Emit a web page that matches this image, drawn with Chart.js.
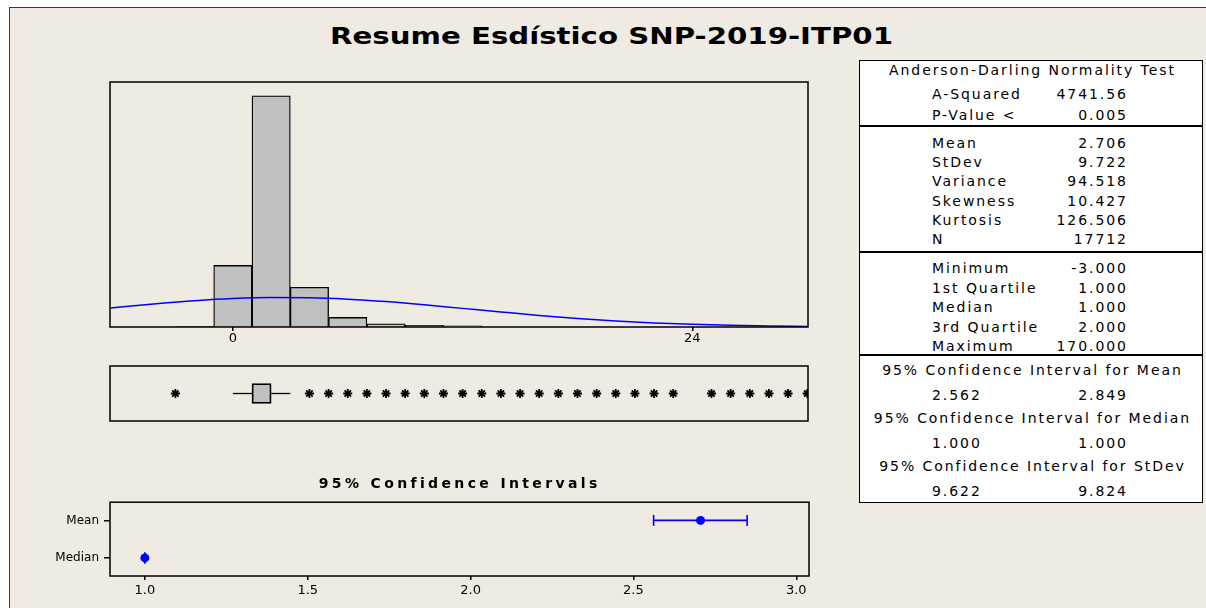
<!DOCTYPE html>
<html><head><meta charset="utf-8">
<script src="https://cdn.jsdelivr.net/npm/chart.js@4/dist/chart.umd.min.js"></script>
<style>
html,body{margin:0;padding:0;background:#fff;width:1206px;height:608px;overflow:hidden;font-family:"DejaVu Sans",Verdana,sans-serif;}
#frame{position:absolute;left:9px;top:7px;width:1197px;height:601px;background:#EFEBE2;border-left:1px solid #3a3a3a;border-top:1px solid #3a3a3a;box-sizing:border-box;}
canvas{position:absolute;}
.t{position:absolute;white-space:nowrap;color:#000;line-height:20px;transform-origin:0 50%;}
#panel{position:absolute;left:859px;top:60px;width:344px;height:443px;background:#fff;border:1.5px solid #000;box-sizing:border-box;}
.sep{position:absolute;left:859px;width:344px;height:0;border-top:2px solid #000;}
</style>
</head><body>
<div id="frame"></div>
<div id="panel"></div>
<canvas id="hist" width="720" height="300" style="left:100px;top:72px;width:720px;height:300px"></canvas>
<canvas id="box" width="720" height="75" style="left:100px;top:356px;width:720px;height:75px"></canvas>
<canvas id="ci" width="830" height="118" style="left:0px;top:490px;width:830px;height:118px"></canvas>
<script>
// ---------- data ----------
const binCenters = [-2, 0, 2, 4, 6, 8, 10, 12];
const binCounts  = [15, 3090, 11610, 1990, 480, 165, 80, 65];
const curveX = [-6.4, -4, -2, 0, 2, 4, 6, 8, 10, 12, 14, 16, 18, 20, 22, 24, 26, 28, 30];
const curveY = [955, 1165, 1315, 1425, 1475, 1465, 1395, 1275, 1115, 935, 755, 580, 430, 305, 205, 135, 85, 50, 30];
const histTicks = [0, 24];
const boxFiveNum = [0, 1, 1, 2, 3]; // lower whisker, Q1, median, Q3, upper whisker
const outliers = [-3, 4, 5, 6, 7, 8, 9, 10, 11, 12, 13, 14, 15, 16, 17, 18, 19, 20, 21, 22, 23, 25, 26, 27, 28, 29, 30];
const ciRows = ['Median', 'Mean'];
const meanCI = [2.562, 2.706, 2.849];
const medianCI = [1.000, 1.000, 1.000];
const ciTicks = [1.0, 1.5, 2.0, 2.5, 3.0];

const titleText = 'Resume Esdístico  SNP-2019-ITP01';
const ciTitle = '95% Confidence Intervals';
const adHeader = 'Anderson-Darling Normality Test';
const adRows = [['A-Squared', '4741.56'], ['P-Value <', '0.005']];
const momentRows = [['Mean', '2.706'], ['StDev', '9.722'], ['Variance', '94.518'], ['Skewness', '10.427'], ['Kurtosis', '126.506'], ['N', '17712']];
const quantRows = [['Minimum', '-3.000'], ['1st Quartile', '1.000'], ['Median', '1.000'], ['3rd Quartile', '2.000'], ['Maximum', '170.000']];
const ciHeaders = ['95% Confidence Interval for Mean', '95% Confidence Interval for Median', '95% Confidence Interval for StDev'];
const ciValues = [['2.562', '2.849'], ['1.000', '1.000'], ['9.622', '9.824']];

// ---------- text helpers ----------
function place(txt, x, y, align, font, ls, fitW, stretch) {
  const d = document.createElement('div');
  d.className = 't'; d.textContent = txt; d.style.font = font; d.style.lineHeight = '20px';
  document.body.appendChild(d);
  let sx = 1;
  if (fitW && !stretch) { const w0 = d.getBoundingClientRect().width; ls = (fitW - w0) / (txt.length - 1); }
  d.style.letterSpacing = ls + 'px';
  let w = d.getBoundingClientRect().width - ls;
  if (fitW && stretch) { sx = fitW / w; d.style.transform = 'scaleX(' + sx + ')'; w = fitW; }
  const left = align === 'left' ? x : align === 'right' ? x - w : x - w / 2;
  d.style.left = left + 'px'; d.style.top = (y - 10) + 'px';
  return ls;
}
const FF = '"DejaVu Sans", Verdana, sans-serif';
place(titleText, 611, 36, 'center', 'bold 23px ' + FF, 0, 563, true);
place(ciTitle, 458, 483, 'center', 'bold 14px ' + FF, 0, 278);

const pf = '14px ' + FF;
const pls = place(adHeader, 1031.5, 70, 'center', pf, 0, 285);
const LX = 932, RX = 1126;
adRows.forEach((r, i) => { const y = 94 + i * 21; place(r[0], LX, y, 'left', pf, pls); place(r[1], RX, y, 'right', pf, pls); });
momentRows.forEach((r, i) => { const y = 142.7 + i * 19.3; place(r[0], LX, y, 'left', pf, pls); place(r[1], RX, y, 'right', pf, pls); });
quantRows.forEach((r, i) => { const y = 268 + i * 19.5; place(r[0], LX, y, 'left', pf, pls); place(r[1], RX, y, 'right', pf, pls); });
ciHeaders.forEach((h, i) => {
  const y = 370 + i * 48;
  place(h, 1031.5, y, 'center', pf, pls);
  place(ciValues[i][0], LX, y + 24.5, 'left', pf, pls);
  place(ciValues[i][1], RX, y + 24.5, 'right', pf, pls);
});
[126, 251.7, 355.3].forEach(y => { const s = document.createElement('div'); s.className = 'sep'; s.style.top = (y - 1) + 'px'; document.body.appendChild(s); });

// ---------- charts ----------
const framePlugin = { id: 'frame', afterDraw(chart) {
  const a = chart.chartArea, c = chart.ctx;
  c.save(); c.lineWidth = 1.5; c.strokeStyle = '#000';
  c.strokeRect(a.left, a.top, a.right - a.left, a.bottom - a.top); c.restore();
} };
const baseOpts = { responsive: false, animation: false, events: [],
  plugins: { legend: { display: false }, tooltip: { enabled: false }, title: { display: false } } };

const XMIN = -6.417, XMAX = 30.04;

new Chart(document.getElementById('hist'), {
  data: { datasets: [
    { type: 'bar', data: binCenters.map((x, i) => ({ x: x, y: binCounts[i] })),
      backgroundColor: '#C0C0C0', borderColor: '#000', borderWidth: 1.3,
      barPercentage: 1, categoryPercentage: 1, order: 2 },
    { type: 'line', data: curveX.map((x, i) => ({ x: x, y: curveY[i] })),
      borderColor: '#0000FF', borderWidth: 1.5, pointRadius: 0, cubicInterpolationMode: 'monotone', order: 1 }
  ] },
  options: Object.assign({}, baseOpts, {
    layout: { padding: { left: 10, top: 10, right: 12, bottom: 0 } },
    scales: {
      x: { type: 'linear', min: XMIN, max: XMAX, offset: false,
        afterBuildTicks: s => { s.ticks = histTicks.map(v => ({ value: v })); },
        afterFit: s => { s.height = 45; },
        grid: { offset: false, drawOnChartArea: false, drawTicks: true, tickLength: 4, color: '#000', lineWidth: 1.5 },
        border: { display: false },
        ticks: { padding: 0, color: '#000', font: { family: FF, size: 13 }, maxRotation: 0, autoSkip: false } },
      y: { display: false, min: 0, max: 12300 }
    }
  }),
  plugins: [framePlugin]
});

new Chart(document.getElementById('box'), {
  data: { datasets: [
    { type: 'line', data: [{ x: boxFiveNum[0], y: 1 }, { x: boxFiveNum[1], y: 1 }], borderColor: '#000', borderWidth: 1.3, pointRadius: 0 },
    { type: 'line', data: [{ x: boxFiveNum[3], y: 1 }, { x: boxFiveNum[4], y: 1 }], borderColor: '#000', borderWidth: 1.3, pointRadius: 0 },
    { type: 'bar', indexAxis: 'y', data: [{ y: 1, x: [boxFiveNum[1], boxFiveNum[3]] }],
      backgroundColor: '#C0C0C0', borderColor: '#000', borderWidth: 1.8, barThickness: 20, borderSkipped: false },
    { type: 'scatter', data: outliers.map(v => ({ x: v, y: 1 })), pointStyle: 'star', pointRadius: 4.5,
      borderColor: '#000', backgroundColor: '#000', borderWidth: 1.8, clip: 0 }
  ] },
  options: Object.assign({}, baseOpts, {
    layout: { padding: { left: 10, top: 10, right: 12, bottom: 10 } },
    scales: {
      x: { type: 'linear', display: false, min: XMIN, max: XMAX, offset: false },
      y: { type: 'linear', display: false, min: 0, max: 2, offset: false }
    }
  }),
  plugins: [framePlugin]
});

const blue = '#0000FF';
const capDs = (arr, yv) => ({ type: 'line', data: [{ x: arr[0], y: yv }, { x: arr[2], y: yv }],
  borderColor: blue, borderWidth: 1.6, pointStyle: 'line', rotation: 90, pointRadius: 5.5,
  pointBorderWidth: 1.6, pointBorderColor: blue, clip: false });
new Chart(document.getElementById('ci'), {
  data: { datasets: [
    capDs(meanCI, 2), capDs(medianCI, 1),
    { type: 'scatter', data: [{ x: meanCI[1], y: 2 }, { x: medianCI[1], y: 1 }], pointStyle: 'circle',
      pointRadius: 4.5, backgroundColor: blue, borderColor: blue, borderWidth: 0 }
  ] },
  options: Object.assign({}, baseOpts, {
    layout: { padding: { left: 0, top: 7, right: 21, bottom: 0 } },
    scales: {
      x: { type: 'linear', min: 0.893, max: 3.039,
        afterBuildTicks: s => { s.ticks = ciTicks.map(v => ({ value: v })); },
        afterFit: s => { s.height = 32; },
        grid: { drawOnChartArea: false, tickLength: 4, color: '#000', lineWidth: 1.5 },
        border: { display: false },
        ticks: { callback: v => Number(v).toFixed(1), padding: 3, color: '#000', font: { family: FF, size: 13 }, maxRotation: 0, autoSkip: false } },
      y: { type: 'linear', min: 0.517, max: 2.485,
        afterBuildTicks: s => { s.ticks = [1, 2].map(v => ({ value: v })); },
        afterFit: s => { s.width = 110; },
        grid: { drawOnChartArea: false, tickLength: 6, color: '#000', lineWidth: 1.5 },
        border: { display: false },
        ticks: { callback: v => ciRows[Math.round(v) - 1], padding: 5, color: '#000', font: { family: FF, size: 12 } } }
    }
  }),
  plugins: [framePlugin]
});
</script>
</body></html>
